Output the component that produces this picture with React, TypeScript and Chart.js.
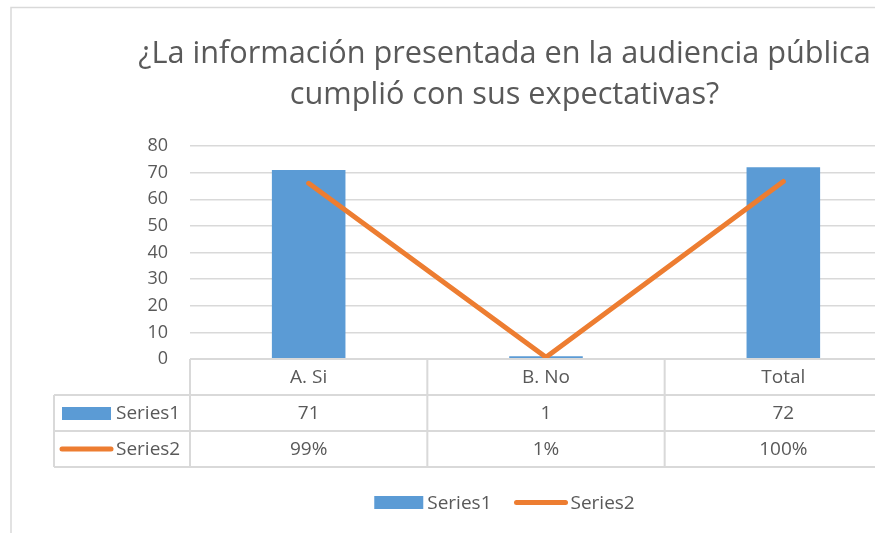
import React, { useEffect, useRef } from "react";
import { Chart, registerables } from "chart.js";

Chart.register(...registerables);

const categories = ["A. Si", "B. No", "Total"];
const series1Values = [71, 1, 72];
const series2Values = [0.99, 0.01, 1.0];
const series2Labels = ["99%", "1%", "100%"];
const seriesNames = ["Series1", "Series2"];
const titleLines = [
  "¿La información presentada en la audiencia pública",
  "cumplió con sus expectativas?",
];
const yMin = 0;
const yMax = 80;
const yStep = 10;
const y2Max = 1.2;

const BLUE = "#5B9BD5";
const ORANGE = "#ED7D31";
const TEXT = "#595959";
const LINE = "#D9D9D9";
const FONT = '"Open Sans", "DejaVu Sans", sans-serif';

const CANVAS_W = 1000;
const CANVAS_H = 533;

const decorPlugin = {
  id: "decor",
  beforeDraw(chart: any) {
    const ctx = chart.ctx;
    ctx.save();
    ctx.fillStyle = "#ffffff";
    ctx.fillRect(0, 0, chart.width, chart.height);
    ctx.strokeStyle = LINE;
    ctx.lineWidth = 1.5;
    ctx.strokeRect(11, 7.5, 987, 600);
    ctx.restore();
  },
  afterDraw(chart: any) {
    const ctx = chart.ctx;
    const ca = chart.chartArea;
    const n = categories.length;
    const colW = (ca.right - ca.left) / n;
    const cx = (11 + 998) / 2;

    ctx.save();
    // Title
    let ts = 30;
    ctx.font = `${ts}px ${FONT}`;
    const w0 = ctx.measureText(titleLines[0]).width;
    ts = ts * 733 / w0;
    ctx.font = `${ts}px ${FONT}`;
    ctx.fillStyle = TEXT;
    ctx.textAlign = "center";
    ctx.textBaseline = "alphabetic";
    ctx.fillText(titleLines[0], cx, 62.5);
    ctx.fillText(titleLines[1], cx, 103.5);

    // Data table
    const top = ca.bottom;
    const rowH = 36;
    const r1 = top + rowH;
    const r2 = r1 + rowH;
    const r3 = r2 + rowH;
    const keyLeft = 54;

    ctx.strokeStyle = LINE;
    ctx.lineWidth = 2;
    ctx.beginPath();
    ctx.moveTo(ca.left, top);
    ctx.lineTo(ca.right, top);
    [r1, r2, r3].forEach((y) => {
      ctx.moveTo(keyLeft, y);
      ctx.lineTo(ca.right, y);
    });
    for (let i = 0; i <= n; i++) {
      const x = ca.left + i * colW;
      ctx.moveTo(x, top);
      ctx.lineTo(x, r3);
    }
    ctx.moveTo(keyLeft, r1);
    ctx.lineTo(keyLeft, r3);
    ctx.stroke();

    ctx.font = `19px ${FONT}`;
    ctx.fillStyle = TEXT;
    ctx.textAlign = "center";
    ctx.textBaseline = "middle";
    for (let i = 0; i < n; i++) {
      const x = chart.scales.x.getPixelForValue(i);
      ctx.fillText(categories[i], x, top + rowH / 2 + 1);
      ctx.fillText(String(series1Values[i]), x, r1 + rowH / 2 + 1);
      ctx.fillText(series2Labels[i], x, r2 + rowH / 2 + 1);
    }

    // Table keys
    ctx.fillStyle = BLUE;
    ctx.fillRect(62, r1 + 12, 49, 13);
    ctx.strokeStyle = ORANGE;
    ctx.lineWidth = 5;
    ctx.lineCap = "round";
    ctx.beginPath();
    ctx.moveTo(62, r2 + 18);
    ctx.lineTo(111, r2 + 18);
    ctx.stroke();
    ctx.fillStyle = TEXT;
    ctx.textAlign = "left";
    ctx.fillText(seriesNames[0], 116, r1 + rowH / 2 + 1);
    ctx.fillText(seriesNames[1], 116, r2 + rowH / 2 + 1);

    // Bottom legend
    const t1 = ctx.measureText(seriesNames[0]).width;
    const t2 = ctx.measureText(seriesNames[1]).width;
    const total = 49 + 4 + t1 + 23 + 53 + 3 + t2;
    let x = cx - total / 2;
    const ly = 502.5;
    ctx.fillStyle = BLUE;
    ctx.fillRect(x, ly - 6.5, 49, 13);
    x += 49 + 4;
    ctx.fillStyle = TEXT;
    ctx.fillText(seriesNames[0], x, ly + 1);
    x += t1 + 23;
    ctx.strokeStyle = ORANGE;
    ctx.beginPath();
    ctx.moveTo(x + 2, ly);
    ctx.lineTo(x + 51, ly);
    ctx.stroke();
    x += 53 + 3;
    ctx.fillText(seriesNames[1], x, ly + 1);

    ctx.restore();
  },
};

export default function App() {
  const ref = useRef<HTMLCanvasElement | null>(null);

  useEffect(() => {
    if (!ref.current) return;
    const chart = new Chart(ref.current, {
      type: "bar",
      data: {
        labels: categories,
        datasets: [
          {
            type: "line",
            label: seriesNames[1],
            data: series2Values,
            yAxisID: "y2",
            borderColor: ORANGE,
            backgroundColor: ORANGE,
            borderWidth: 5,
            pointRadius: 0,
            borderCapStyle: "round",
            borderJoinStyle: "round",
            order: 0,
          } as any,
          {
            type: "bar",
            label: seriesNames[0],
            data: series1Values,
            yAxisID: "y",
            backgroundColor: BLUE,
            barPercentage: 0.31,
            categoryPercentage: 1,
            order: 1,
          } as any,
        ],
      },
      options: {
        responsive: false,
        animation: false,
        layout: { padding: { top: 146, bottom: 174, left: 0, right: CANVAS_W - 902 } },
        plugins: {
          legend: { display: false },
          title: { display: false },
          tooltip: { enabled: false },
        },
        scales: {
          x: { display: false },
          y: {
            min: yMin,
            max: yMax,
            ticks: {
              stepSize: yStep,
              color: TEXT,
              font: { family: FONT, size: 18 },
              padding: 22,
            },
            grid: { color: LINE, lineWidth: 1.5, drawTicks: false },
            border: { display: false },
            afterFit: (s: any) => {
              s.width = 190;
            },
          },
          y2: { display: false, min: 0, max: y2Max },
        },
      } as any,
      plugins: [decorPlugin],
    });
    return () => chart.destroy();
  }, []);

  return (
    <div
      style={{
        position: "absolute",
        left: 0,
        top: 0,
        width: 875,
        height: 533,
        overflow: "hidden",
        background: "#fff",
      }}
    >
      <canvas
        ref={ref}
        width={CANVAS_W}
        height={CANVAS_H}
        style={{ display: "block", width: CANVAS_W, height: CANVAS_H }}
      />
    </div>
  );
}
